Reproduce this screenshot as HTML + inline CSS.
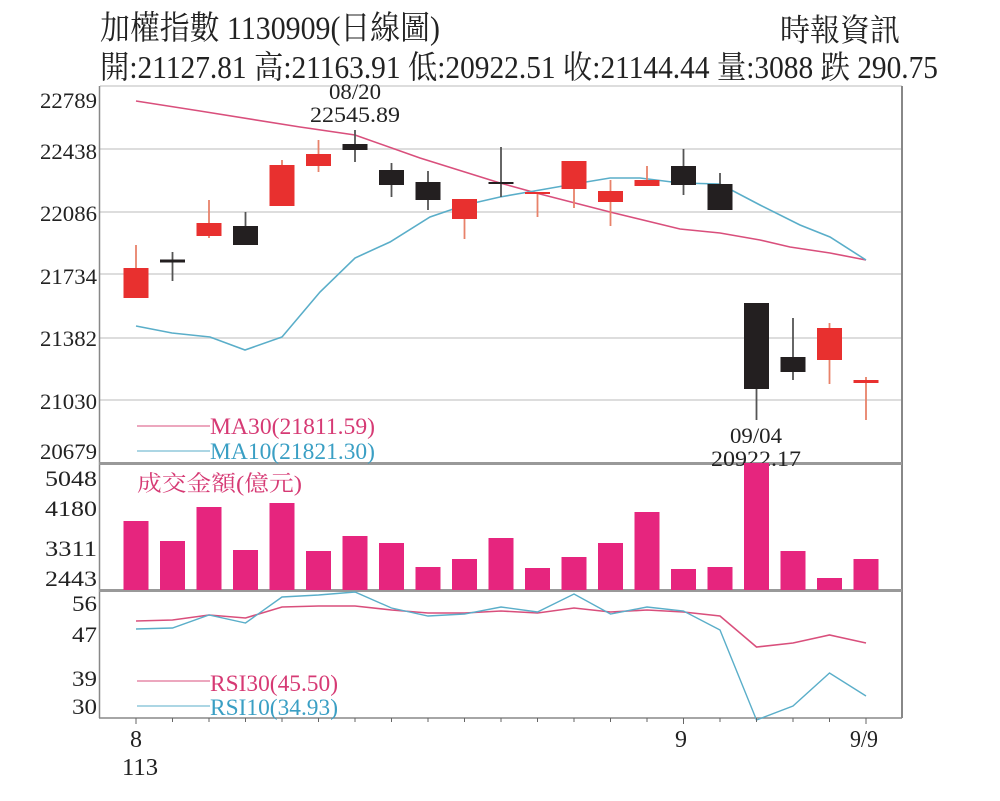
<!DOCTYPE html>
<html><head><meta charset="utf-8"><style>
body{margin:0;background:#fff}
svg{display:block}
text{font-family:"Liberation Serif","Noto Serif CJK SC","Noto Sans CJK TC",serif}
</style></head><body>
<svg width="1000" height="801" viewBox="0 0 1000 801" xmlns="http://www.w3.org/2000/svg">
<rect width="1000" height="801" fill="#fff"/>
<text x="100" y="39" font-size="33" textLength="340" lengthAdjust="spacingAndGlyphs" fill="#222">加權指數 1130909(日線圖)</text>
<text x="780" y="41" font-size="31" textLength="120" lengthAdjust="spacingAndGlyphs" fill="#222">時報資訊</text>
<text x="100" y="78" font-size="32" textLength="838" lengthAdjust="spacingAndGlyphs" fill="#222">開:21127.81 高:21163.91 低:20922.51 收:21144.44 量:3088 跌 290.75</text>
<g stroke="#ddd" stroke-width="2">
<line x1="100" y1="86" x2="902" y2="86"/><line x1="100" y1="149" x2="902" y2="149"/><line x1="100" y1="212" x2="902" y2="212"/><line x1="100" y1="274" x2="902" y2="274"/><line x1="100" y1="338" x2="902" y2="338"/><line x1="100" y1="400" x2="902" y2="400"/>
</g>
<g stroke="#888" fill="none">
<line x1="99.5" y1="86" x2="99.5" y2="718" stroke-width="1.5"/>
<line x1="902" y1="86" x2="902" y2="718" stroke-width="2"/>
<line x1="99" y1="718" x2="902" y2="718" stroke-width="1.5"/>
<line x1="99" y1="463.5" x2="902" y2="463.5" stroke-width="3" stroke="#999"/>
<line x1="99" y1="590.5" x2="902" y2="590.5" stroke-width="3" stroke="#999"/>
</g>
<g font-size="22" fill="#222" text-anchor="end">
<text x="97" y="108" textLength="57" lengthAdjust="spacingAndGlyphs">22789</text>
<text x="97" y="159" textLength="57" lengthAdjust="spacingAndGlyphs">22438</text>
<text x="97" y="221" textLength="57" lengthAdjust="spacingAndGlyphs">22086</text>
<text x="97" y="284" textLength="57" lengthAdjust="spacingAndGlyphs">21734</text>
<text x="97" y="346" textLength="57" lengthAdjust="spacingAndGlyphs">21382</text>
<text x="97" y="409" textLength="57" lengthAdjust="spacingAndGlyphs">21030</text>
<text x="97" y="459" textLength="57" lengthAdjust="spacingAndGlyphs">20679</text>
<text x="97" y="486" textLength="52" lengthAdjust="spacingAndGlyphs">5048</text>
<text x="97" y="516" textLength="52" lengthAdjust="spacingAndGlyphs">4180</text>
<text x="97" y="556" textLength="52" lengthAdjust="spacingAndGlyphs">3311</text>
<text x="97" y="586" textLength="52" lengthAdjust="spacingAndGlyphs">2443</text>
<text x="97" y="611" textLength="25" lengthAdjust="spacingAndGlyphs">56</text>
<text x="97" y="642" textLength="25" lengthAdjust="spacingAndGlyphs">47</text>
<text x="97" y="686" textLength="25" lengthAdjust="spacingAndGlyphs">39</text>
<text x="97" y="714" textLength="25" lengthAdjust="spacingAndGlyphs">30</text>
</g>
<polyline fill="none" stroke="#d94f7c" stroke-width="1.6" points="136,101 200,111 300,127 355,135 420,158 500,183 540,194 610,212 680,229 720,233 760,240 790,247 830,253 866,260"/>
<polyline fill="none" stroke="#5aaec9" stroke-width="1.6" points="136,326 172,333 210,337 245,350 282,337 320,292 355,258 390,242 430,217 465,205 500,197 540,190 580,183 610,178 640,178 680,183 720,184 760,205 800,225 830,237 866,260"/>
<g stroke-width="1.8">
<line x1="136" y1="245" x2="136" y2="298" stroke="#e8826a"/>
<line x1="172.5" y1="252" x2="172.5" y2="281" stroke="#555"/>
<line x1="209" y1="200" x2="209" y2="238" stroke="#e8826a"/>
<line x1="245.5" y1="212" x2="245.5" y2="245" stroke="#555"/>
<line x1="282" y1="160" x2="282" y2="206" stroke="#e8826a"/>
<line x1="318.5" y1="140" x2="318.5" y2="172" stroke="#e8826a"/>
<line x1="355" y1="130" x2="355" y2="162" stroke="#555"/>
<line x1="391.5" y1="163" x2="391.5" y2="197" stroke="#555"/>
<line x1="428" y1="171" x2="428" y2="210" stroke="#555"/>
<line x1="464.5" y1="199" x2="464.5" y2="239" stroke="#e8826a"/>
<line x1="501" y1="147" x2="501" y2="197" stroke="#555"/>
<line x1="537.5" y1="192" x2="537.5" y2="217" stroke="#e8826a"/>
<line x1="574" y1="161" x2="574" y2="208" stroke="#e8826a"/>
<line x1="610.5" y1="180" x2="610.5" y2="226" stroke="#e8826a"/>
<line x1="647" y1="166" x2="647" y2="186" stroke="#e8826a"/>
<line x1="683.5" y1="149" x2="683.5" y2="195" stroke="#555"/>
<line x1="720" y1="173" x2="720" y2="210" stroke="#555"/>
<line x1="756.5" y1="303" x2="756.5" y2="420" stroke="#555"/>
<line x1="793" y1="318" x2="793" y2="380" stroke="#555"/>
<line x1="829.5" y1="323" x2="829.5" y2="384" stroke="#e8826a"/>
<line x1="866" y1="377" x2="866" y2="420" stroke="#e8826a"/>
</g>
<g>
<rect x="123.5" y="268" width="25" height="30" fill="#e8302f"/>
<rect x="160" y="259.5" width="25" height="3" fill="#231f20"/>
<rect x="196.5" y="223" width="25" height="13" fill="#e8302f"/>
<rect x="233" y="226" width="25" height="19" fill="#231f20"/>
<rect x="269.5" y="165" width="25" height="41" fill="#e8302f"/>
<rect x="306" y="154" width="25" height="12" fill="#e8302f"/>
<rect x="342.5" y="144" width="25" height="6" fill="#231f20"/>
<rect x="379" y="170" width="25" height="15" fill="#231f20"/>
<rect x="415.5" y="182" width="25" height="18" fill="#231f20"/>
<rect x="452" y="199" width="25" height="20" fill="#e8302f"/>
<rect x="488.5" y="182" width="25" height="2" fill="#231f20"/>
<rect x="525" y="192" width="25" height="2" fill="#e8302f"/>
<rect x="561.5" y="161" width="25" height="28" fill="#e8302f"/>
<rect x="598" y="191" width="25" height="11" fill="#e8302f"/>
<rect x="634.5" y="180" width="25" height="6" fill="#e8302f"/>
<rect x="671" y="166" width="25" height="19" fill="#231f20"/>
<rect x="707.5" y="184" width="25" height="26" fill="#231f20"/>
<rect x="744" y="303" width="25" height="86" fill="#231f20"/>
<rect x="780.5" y="357" width="25" height="15" fill="#231f20"/>
<rect x="817" y="328" width="25" height="32" fill="#e8302f"/>
<rect x="853.5" y="380" width="25" height="3" fill="#e8302f"/>
</g>
<g font-size="22" fill="#222" text-anchor="middle">
<text x="355" y="99" textLength="52" lengthAdjust="spacingAndGlyphs">08/20</text>
<text x="355" y="122" textLength="90" lengthAdjust="spacingAndGlyphs">22545.89</text>
<text x="756" y="443" textLength="52" lengthAdjust="spacingAndGlyphs">09/04</text>
<text x="756" y="466" textLength="90" lengthAdjust="spacingAndGlyphs">20922.17</text>
</g>
<line x1="137" y1="426" x2="210" y2="426" stroke="#d94f7c" stroke-width="1"/>
<text x="210" y="434" font-size="23" fill="#d63a74" textLength="165" lengthAdjust="spacingAndGlyphs">MA30(21811.59)</text>
<line x1="137" y1="451" x2="210" y2="451" stroke="#5aaec9" stroke-width="1"/>
<text x="210" y="459" font-size="23" fill="#3a9fc4" textLength="165" lengthAdjust="spacingAndGlyphs">MA10(21821.30)</text>
<g fill="#e6257e">
<rect x="123.5" y="521" width="25" height="69"/>
<rect x="160" y="541" width="25" height="49"/>
<rect x="196.5" y="507" width="25" height="83"/>
<rect x="233" y="550" width="25" height="40"/>
<rect x="269.5" y="503" width="25" height="87"/>
<rect x="306" y="551" width="25" height="39"/>
<rect x="342.5" y="536" width="25" height="54"/>
<rect x="379" y="543" width="25" height="47"/>
<rect x="415.5" y="567" width="25" height="23"/>
<rect x="452" y="559" width="25" height="31"/>
<rect x="488.5" y="538" width="25" height="52"/>
<rect x="525" y="568" width="25" height="22"/>
<rect x="561.5" y="557" width="25" height="33"/>
<rect x="598" y="543" width="25" height="47"/>
<rect x="634.5" y="512" width="25" height="78"/>
<rect x="671" y="569" width="25" height="21"/>
<rect x="707.5" y="567" width="25" height="23"/>
<rect x="744" y="463" width="25" height="127"/>
<rect x="780.5" y="551" width="25" height="39"/>
<rect x="817" y="578" width="25" height="12"/>
<rect x="853.5" y="559" width="25" height="31"/>
</g>
<text x="137" y="491" font-size="22" fill="#d63a74" textLength="165" lengthAdjust="spacingAndGlyphs">成交金額(億元)</text>
<polyline fill="none" stroke="#d94f7c" stroke-width="1.6" points="136,621 172.5,620 209,615 245.5,618 282,607 318.5,606 355,606 391.5,610 428,613 464.5,613 501,611 537.5,613 574,608 610.5,612 647,610 683.5,612 720,616 756.5,647 793,643 829.5,635 866,643"/>
<polyline fill="none" stroke="#5aaec9" stroke-width="1.4" points="136,629 172.5,628 209,615 245.5,623 282,597 318.5,595 355,592 391.5,608 428,616 464.5,614 501,607 537.5,612 574,594 610.5,614 647,607 683.5,611 720,630 756.5,720 793,706 829.5,673 866,696"/>
<line x1="137" y1="681" x2="210" y2="681" stroke="#d94f7c" stroke-width="1"/>
<text x="210" y="691" font-size="23" fill="#d63a74" textLength="128" lengthAdjust="spacingAndGlyphs">RSI30(45.50)</text>
<line x1="137" y1="706" x2="210" y2="706" stroke="#5aaec9" stroke-width="1"/>
<text x="210" y="715" font-size="23" fill="#3a9fc4" textLength="128" lengthAdjust="spacingAndGlyphs">RSI10(34.93)</text>
<g stroke="#666" stroke-width="1">
<line x1="136" y1="718" x2="136" y2="724"/><line x1="172.5" y1="718" x2="172.5" y2="722"/><line x1="209" y1="718" x2="209" y2="722"/><line x1="245.5" y1="718" x2="245.5" y2="722"/><line x1="282" y1="718" x2="282" y2="722"/><line x1="318.5" y1="718" x2="318.5" y2="722"/><line x1="355" y1="718" x2="355" y2="722"/><line x1="391.5" y1="718" x2="391.5" y2="722"/><line x1="428" y1="718" x2="428" y2="722"/><line x1="464.5" y1="718" x2="464.5" y2="722"/><line x1="501" y1="718" x2="501" y2="722"/><line x1="537.5" y1="718" x2="537.5" y2="722"/><line x1="574" y1="718" x2="574" y2="722"/><line x1="610.5" y1="718" x2="610.5" y2="722"/><line x1="647" y1="718" x2="647" y2="722"/><line x1="683.5" y1="718" x2="683.5" y2="724"/><line x1="720" y1="718" x2="720" y2="722"/><line x1="756.5" y1="718" x2="756.5" y2="722"/><line x1="793" y1="718" x2="793" y2="722"/><line x1="829.5" y1="718" x2="829.5" y2="722"/><line x1="866" y1="718" x2="866" y2="724"/>
</g>
<g font-size="24" fill="#222" text-anchor="middle">
<text x="136" y="747">8</text>
<text x="140" y="775" textLength="36" lengthAdjust="spacingAndGlyphs">113</text>
<text x="681" y="747">9</text>
<text x="864" y="747" textLength="28" lengthAdjust="spacingAndGlyphs">9/9</text>
</g>
</svg>
</body></html>
